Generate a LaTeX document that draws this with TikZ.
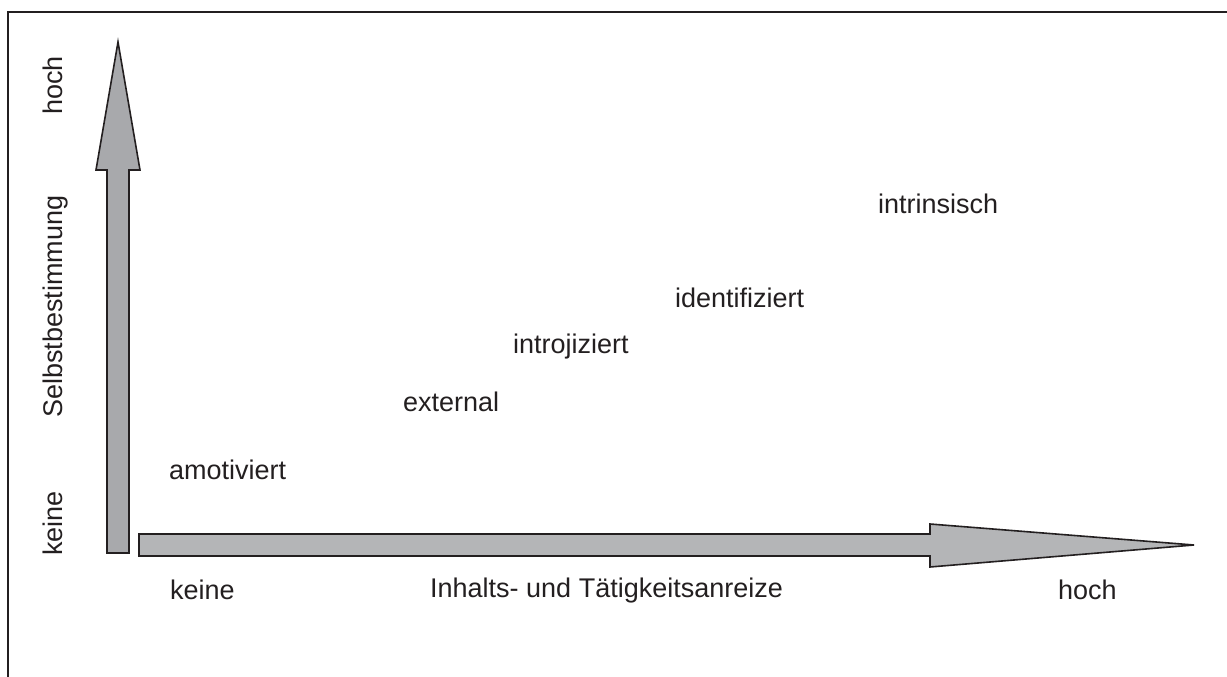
\documentclass[tikz,border=0pt]{standalone}
\usepackage{fontspec}
\setmainfont{Liberation Sans}
\definecolor{vfill}{HTML}{A8A9AC}
\definecolor{hfill}{HTML}{B4B5B7}
\definecolor{ink}{HTML}{231F20}
\begin{document}
\begin{tikzpicture}[x=1pt,y=-1pt,
  lbl/.style={inner sep=0pt, anchor=base west, text=ink, font=\fontsize{27}{32}\selectfont},
  vlbl/.style={lbl, rotate=90},
  arrowshape/.style={draw=ink, line width=1.6pt, line join=miter}]
\useasboundingbox (0,0) rectangle (1227,677);
% frame
\draw[ink, line width=2pt] (8,690) -- (8,12) -- (1240,12);
% vertical arrow
\coordinate (vt) at (118,42);
\draw[arrowshape, fill=vfill] (107,553) -- (107,170) -- (96,170) -- (vt) -- (140,170) -- (129,170) -- (129,553) -- cycle;
% horizontal arrow
\coordinate (ht) at (1194,545);
\draw[arrowshape, fill=hfill] (139,534) -- (930,534) -- (930,524) -- (ht) -- (930,567) -- (930,556) -- (139,556) -- cycle;
% axis labels
\node[vlbl] (yhoch) at (62,115) {hoch};
\node[vlbl] (ysb) at (62,418) {Selbstbestimmung};
\node[vlbl] (ykeine) at (62,556) {keine};
\node[lbl] (xkeine) at (170,599) {keine};
\node[lbl] (xlabel) at (430,597) {Inhalts- und Tätigkeitsanreize};
\node[lbl] (xhoch) at (1058,599) {hoch};
% stages
\node[lbl] (amot) at (169,479) {amotiviert};
\node[lbl] (ext) at (403,411) {external};
\node[lbl] (intro) at (513,353) {introjiziert};
\node[lbl] (ident) at (675,307) {identifiziert};
\node[lbl] (intr) at (878,213) {intrinsisch};
\end{tikzpicture}
\end{document}
